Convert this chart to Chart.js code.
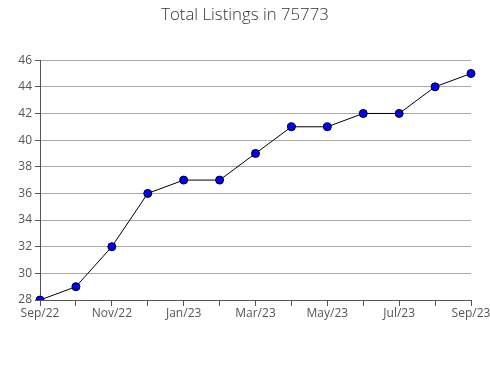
<!DOCTYPE html>
<html lang="en">
<head>
    <meta charset="UTF-8">
    <title>Total Listings in 75773</title>
    <script src="https://cdn.jsdelivr.net/npm/chart.js"></script>
    <style>
        body { margin: 0; background: #fff; }
        #wrap { width: 490px; height: 380px; }
    </style>
</head>
<body>
    <div id="wrap"><canvas id="listingChart"></canvas></div>

    <script>
        // Months along the x axis
        const months = ['Sep/22', 'Oct/22', 'Nov/22', 'Dec/22', 'Jan/23', 'Feb/23', 'Mar/23',
                        'Apr/23', 'May/23', 'Jun/23', 'Jul/23', 'Aug/23', 'Sep/23'];
        // Total listings each month
        const listings = [28, 29, 32, 36, 37, 37, 39, 41, 41, 42, 42, 44, 45];
        // y axis range
        const yMin = 28;
        const yMax = 46;

        const font = { family: "'Open Sans', sans-serif", size: 12 };

        const config = {
            type: 'line',
            data: {
                labels: months,
                datasets: [{
                    label: 'Total Listings',
                    data: listings,
                    borderColor: '#000',
                    borderWidth: 1,
                    backgroundColor: '#0000ff',
                    pointBackgroundColor: '#0000ff',
                    pointBorderColor: '#000',
                    pointBorderWidth: 1,
                    pointRadius: 4,
                    tension: 0
                }]
            },
            options: {
                responsive: true,
                maintainAspectRatio: false,
                animation: false,
                layout: { padding: { top: 5, right: 0, bottom: 0, left: 0 } },
                plugins: {
                    legend: { display: false },
                    tooltip: { enabled: false },
                    title: {
                        display: true,
                        text: 'Total Listings in 75773',
                        color: '#333',
                        font: { family: "'Open Sans', sans-serif", size: 16.8, weight: 300 },
                        padding: { top: 0, bottom: 35 }
                    }
                },
                scales: {
                    x: {
                        offset: false,
                        grid: {
                            drawOnChartArea: false,
                            tickLength: 6,
                            tickColor: '#555',
                            color: '#555'
                        },
                        border: { color: '#555' },
                        ticks: {
                            autoSkip: false,
                            maxRotation: 0,
                            color: '#555',
                            font: font,
                            padding: 0,
                            callback: (v, i) => i % 2 === 0 ? months[i] : ''
                        },
                        afterFit: s => { s.height = 80; s.paddingRight = 19; }
                    },
                    y: {
                        min: yMin,
                        max: yMax,
                        grid: {
                            color: c => c.tick && c.tick.value % 2 === 0 ? '#aaa' : 'rgba(0,0,0,0)',
                            tickColor: '#555',
                            tickLength: 5
                        },
                        border: { color: '#555' },
                        ticks: {
                            stepSize: 1,
                            color: '#555',
                            font: font,
                            padding: 3,
                            callback: v => v % 2 === 0 ? v : ''
                        },
                        afterFit: s => { s.width = 40; }
                    }
                }
            }
        };

        new Chart(document.getElementById('listingChart').getContext('2d'), config);
    </script>
</body>
</html>
